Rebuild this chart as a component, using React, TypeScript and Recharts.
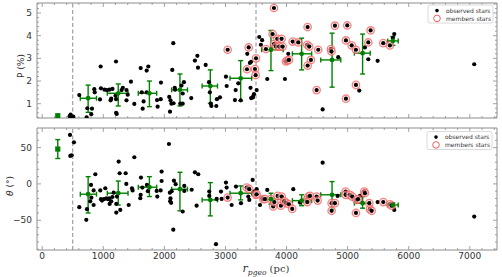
import React from "react";
import {
    ScatterChart,
    Scatter,
    XAxis,
    YAxis,
    ErrorBar,
    ReferenceLine,
    ReferenceArea
} from "recharts";

// distance (pc), polarisation (%) for stars that are not members
const observedP: [number, number][] = [
    [450, 0.45], [465, 0.52], [480, 0.42], [510, 0.43],
    [607, 1.38], [728, 0.40], [804, 0.54], [815, 0.78], [739, 0.80], [853, 1.64], [860, 1.50],
    [957, 2.64], [962, 1.68], [946, 1.19], [1020, 1.62], [1060, 1.60], [1100, 1.62], [1208, 2.86],
    [1150, 1.65], [1200, 1.35], [1210, 1.20], [1210, 0.60], [1220, 0.55], [1130, 1.22], [1120, 1.15],
    [1300, 1.60], [1320, 1.70], [1380, 1.60], [1400, 1.40], [1453, 1.97], [1380, 1.15], [1508, 0.99],
    [1612, 2.57], [1710, 2.46], [1737, 2.64], [1630, 1.50], [1660, 1.10], [1710, 1.50], [1645, 0.78],
    [1880, 1.16], [1890, 0.87], [1940, 1.20], [1944, 1.93], [2146, 3.67], [2129, 2.49], [2080, 1.30],
    [2100, 1.15], [2092, 0.65], [2115, 1.00], [2150, 1.02], [2170, 1.70], [2175, 1.62], [2280, 1.80],
    [2300, 1.45], [2320, 1.95], [2260, 1.00], [2300, 1.00], [2440, 1.25], [2500, 2.90], [2540, 3.11],
    [2550, 2.59], [2676, 2.71], [2730, 1.95], [2745, 1.50], [2760, 1.00], [2770, 0.90], [2850, 0.90],
    [2860, 1.20], [2910, 1.28], [3008, 2.19], [3020, 1.78], [3155, 1.16], [3167, 1.60], [3210, 1.90],
    [3250, 1.15], [3357, 3.20], [3400, 2.80], [3420, 2.85], [3410, 1.70], [3420, 1.25], [3450, 1.30],
    [3467, 1.42], [3445, 1.27], [3511, 1.60], [3553, 3.94], [3600, 3.80], [3580, 3.60], [3684, 2.09],
    [3974, 2.09], [4028, 3.20], [4591, 0.75], [4846, 3.05], [5190, 1.58], [5283, 3.48], [5338, 2.96],
    [5491, 2.89], [5763, 4.07], [5740, 3.90], [7072, 2.74]
];

const membersP: [number, number][] = [
    [3036, 3.38], [3352, 2.52], [3380, 3.48], [3500, 3.00], [3483, 2.53], [3494, 2.26], [3794, 5.22],
    [3663, 3.41], [3772, 4.07], [3794, 3.63], [3827, 3.52], [3848, 3.86], [3881, 3.52], [3919, 3.86],
    [3936, 3.52], [3990, 2.86], [4012, 2.90], [4039, 2.93], [4100, 3.74], [4192, 3.70], [4345, 4.38],
    [4339, 3.60], [4372, 3.52], [4399, 2.93], [4345, 2.68], [4519, 3.38], [4492, 1.60], [4727, 3.41],
    [4735, 3.30], [4792, 4.44], [4972, 3.79], [4972, 1.22], [4994, 4.45], [5066, 3.57], [5136, 3.38],
    [5136, 1.83], [5338, 3.70], [5376, 4.23], [5583, 3.67], [5692, 3.57]
];

// distance (pc), polarisation angle (deg)
const observedTheta: [number, number][] = [
    [455, 67.4], [520, 57.3], [460, 38.5], [483, 39.5],
    [607, -32], [722, -49.5], [733, -34.8], [787, -24], [799, -1.4], [842, -9], [870, 13.3], [842, -29],
    [805, -19], [951, -9], [962, -21], [979, -23], [1033, -6], [1010, -21], [1050, -20], [1080, -21],
    [1100, -20], [1104, -27.5], [1130, -24], [1150, -18], [1170, -12], [1213, -27.5], [1213, -39.5],
    [1224, -17.4], [1252, 30.7], [1268, 14.7], [1278, -35.8], [1366, 14.7], [1377, 0], [1416, -29],
    [1470, -6], [1480, -9], [1508, 36.7], [1617, 8.7], [1612, -15], [1606, -19.7], [1640, -5],
    [1715, -1.4], [1730, -10], [1874, -9.6], [1884, -17.4], [1939, -9], [1955, 17], [1955, 4],
    [2075, 55], [2090, -12], [2100, -20], [2095, -24], [2110, -26], [2120, -10], [2157, 4.5],
    [2185, -0.4], [2146, -63], [2300, -38], [2326, -2.8], [2326, -9.6], [2447, -8], [2500, 16],
    [2555, 13.3], [2528, -30], [2735, -10.6], [2735, -16.5], [2845, -83], [2856, -20.6], [2937, -20.6],
    [2927, -10.6], [3008, 1.8], [3019, -5], [3101, -29], [3172, -3.7], [3254, -26.5], [3374, -17.4],
    [3390, -22], [3445, 5.5], [3466, -10.6], [3511, -7.3], [3565, -29], [3602, -19.7], [3684, -8.3],
    [4110, -7.3], [4219, -25.7], [4591, 29.3], [4836, -16.5], [5201, -16.5], [5491, -25], [5763, -35.8],
    [7072, -45]
];

const membersTheta: [number, number][] = [
    [3036, -18.8], [3347, -5], [3390, -7.3], [3499, -15], [3511, -14.2], [3619, -21], [3647, -21],
    [3745, -21], [3782, -31], [3800, -25], [3854, -16.5], [3920, -17.4], [3908, -30], [3963, -24],
    [4001, -26.5], [4039, -28], [4093, -34.4], [4329, -22], [4356, -17.4], [4383, -16.5], [4340, -25],
    [4492, -17.4], [4509, -23], [4738, -26.5], [4792, -26.5], [4738, -37], [4967, -10.6], [4967, -15],
    [5038, -15], [5075, -17.4], [5147, -22], [5170, -21], [5136, -40], [5272, -10.6], [5283, -12.8],
    [5354, -26.5], [5365, -34.8], [5393, -37], [5583, -25], [5692, -28], [5720, -30]
];

// binned medians
const binCenter = [752, 1245, 1755, 2255, 2752, 3249, 3745, 4247, 4745, 5245, 5740];
const binLow = [624, 1066, 1573, 2119, 2618, 3074, 3592, 4096, 4560, 5110, 5656];
const binHigh = [889, 1405, 1874, 2378, 2869, 3429, 3945, 4411, 4888, 5370, 5828];
const medianP = [1.24, 1.46, 1.46, 1.61, 1.78, 2.12, 3.38, 3.2, 2.93, 3.23, 3.77];
const medianPLow = [0.62, 0.9, 0.87, 0.9, 1.02, 1.13, 2.46, 2.49, 1.73, 2.31, 3.57];
const medianPHigh = [1.82, 1.87, 2.0, 2.31, 2.49, 2.9, 4.23, 3.89, 4.11, 4.07, 3.96];
const medianTheta = [-14.2, -12.8, -4.5, -7.3, -22, -12.8, -21, -23, -15, -26.5, -29];
const medianThetaLow = [-40, -29, -17.4, -37, -44, -22, -27.9, -30, -35, -33.4, -32];
const medianThetaHigh = [10, 4, 10, 16, 1.8, -2.75, -12.8, -15, 3.2, -17.4, -26];

// nearby cloud point
const nearD = 255;
const nearP = [0.47, 0.45, 0.49];
const nearTheta = [48, 35, 61];

const cloudEdges = [500, 3500];

const X_DOMAIN: [number, number] = [-85, 7445];
const P_DOMAIN: [number, number] = [0.37, 5.44];
const T_DOMAIN: [number, number] = [-91, 77];

const xTicks = Array.from({length: 38}, (_, i) => i * 200);
const pTicks = Array.from({length: 26}, (_, i) => (4 + i * 2) / 10);
const tTicks = Array.from({length: 17}, (_, i) => -90 + i * 10);

const AXIS = "#8c8c8c";
const TEXT = "#333";
const FONT = "DejaVu Sans";
const PLOT_W = 460;

const toPts = (arr: [number, number][]) => arr.map(([x, y]) => ({x, y}));

const medians = (vals: number[], lo: number[], hi: number[]) =>
    binCenter.map((x, i) => ({
        x,
        y: vals[i],
        ex: [x - binLow[i], binHigh[i] - x],
        ey: [vals[i] - lo[i], hi[i] - vals[i]]
    }));

const dot = (p: any) => <circle cx={p.cx} cy={p.cy} r={2.1} fill="#000"/>;
const member = (p: any) => (
    <g>
        <circle cx={p.cx} cy={p.cy} r={3.7} fill="#ffe4e4" fillOpacity={0.5} stroke="#f25c5c" strokeOpacity={0.75} strokeWidth={1.3}/>
        <circle cx={p.cx} cy={p.cy} r={2.1} fill="#000"/>
    </g>
);
const greenDot = (p: any) => <circle cx={p.cx} cy={p.cy} r={2.4} fill="green"/>;
const greenSquare = (p: any) => <rect x={p.cx - 2.6} y={p.cy - 2.6} width={5.2} height={5.2} fill="green"/>;

const fmt = (v: number) => (v < 0 ? "\u2212" + Math.abs(v) : String(v));

const makeXTick = (plotH: number, labels: boolean) => (props: any) => {
    const {x, y, payload} = props;
    const v = payload.value;
    const major = v % 1000 === 0;
    const len = major ? 4 : 2;
    return (
        <g>
            <line x1={x} y1={y} x2={x} y2={y - len} stroke={AXIS} strokeWidth={0.8}/>
            <line x1={x} y1={y - plotH} x2={x} y2={y - plotH + len} stroke={AXIS} strokeWidth={0.8}/>
            {labels && major ? (
                <text x={x} y={y + 9} textAnchor="middle" fontSize={9} fill={TEXT} fontFamily={FONT}>{v}</text>
            ) : null}
        </g>
    );
};

const makeYTick = (isMajor: (v: number) => boolean) => (props: any) => {
    const {x, y, payload} = props;
    const v = payload.value;
    const major = isMajor(v);
    const len = major ? 4 : 2;
    return (
        <g>
            <line x1={x} y1={y} x2={x + len} y2={y} stroke={AXIS} strokeWidth={0.8}/>
            <line x1={x + PLOT_W} y1={y} x2={x + PLOT_W - len} y2={y} stroke={AXIS} strokeWidth={0.8}/>
            {major ? (
                <text x={x - 5} y={y} dy="0.35em" textAnchor="end" fontSize={9} fill={TEXT} fontFamily={FONT}>{fmt(Math.round(v))}</text>
            ) : null}
        </g>
    );
};

const Legend = ({x, y}: {x: number, y: number}) => (
    <g fontFamily={FONT} fontSize={6} fill={TEXT}>
        <rect x={x} y={y} width={65} height={18} rx={2} fill="#fff" stroke="#d0d0d0" strokeWidth={0.8}/>
        <circle cx={x + 9} cy={y + 5.6} r={1.8} fill="#000"/>
        <text x={x + 18} y={y + 5.6} dy="0.35em">observed stars</text>
        <circle cx={x + 9} cy={y + 13.4} r={3.3} fill="none" stroke="#f25c5c" strokeWidth={1}/>
        <text x={x + 18} y={y + 13.4} dy="0.35em">members stars</text>
    </g>
);

export default function App() {
    const medP = medians(medianP, medianPLow, medianPHigh);
    const medT = medians(medianTheta, medianThetaLow, medianThetaHigh);
    const nearPPt = [{x: nearD, y: nearP[0], ey: [nearP[0] - nearP[1], nearP[2] - nearP[0]]}];
    const nearTPt = [{x: nearD, y: nearTheta[0], ey: [nearTheta[0] - nearTheta[1], nearTheta[2] - nearTheta[0]]}];

    return (
        <div style={{position: "absolute", left: 0, top: 0, width: 502, height: 277, background: "#fff"}}>
            <div style={{position: "absolute", left: 0, top: 0}}>
                <ScatterChart width={502} height={122} margin={{top: 3, right: 5, bottom: 0, left: 0}}>
                    <XAxis type="number" dataKey="x" domain={X_DOMAIN} allowDataOverflow ticks={xTicks} interval={0}
                           tickSize={0} tickMargin={0} tickLine={false} axisLine={false} height={4}
                           tick={makeXTick(115, false)}/>
                    <YAxis type="number" dataKey="y" domain={P_DOMAIN} allowDataOverflow ticks={pTicks} interval={0}
                           tickSize={0} tickMargin={0} tickLine={false} axisLine={false} width={37}
                           tick={makeYTick((v) => Math.abs(v - Math.round(v)) < 1e-6)}/>
                    <ReferenceArea x1={X_DOMAIN[0]} x2={X_DOMAIN[1]} y1={P_DOMAIN[0]} y2={P_DOMAIN[1]}
                                   fill="#fff" fillOpacity={0} stroke={AXIS} strokeWidth={1}/>
                    {cloudEdges.map((e) => (
                        <ReferenceLine key={e} x={e} stroke="#8c8c8c" strokeDasharray="4 2.5" strokeWidth={1}/>
                    ))}
                    <Scatter data={toPts(observedP)} shape={dot} isAnimationActive={false}/>
                    <Scatter data={toPts(membersP)} shape={member} isAnimationActive={false}/>
                    <Scatter data={nearPPt} shape={greenSquare} isAnimationActive={false}/>
                    <Scatter data={medP} shape={greenDot} isAnimationActive={false}>
                        <ErrorBar dataKey="ey" direction="y" width={2.5} stroke="green" strokeWidth={1.4} isAnimationActive={false}/>
                        <ErrorBar dataKey="ex" direction="x" width={2.5} stroke="green" strokeWidth={1.4} isAnimationActive={false}/>
                    </Scatter>
                </ScatterChart>
            </div>
            <div style={{position: "absolute", left: 0, top: 125}}>
                <ScatterChart width={502} height={152} margin={{top: 3, right: 5, bottom: 0, left: 0}}>
                    <XAxis type="number" dataKey="x" domain={X_DOMAIN} allowDataOverflow ticks={xTicks} interval={0}
                           tickSize={0} tickMargin={0} tickLine={false} axisLine={false} height={27}
                           tick={makeXTick(122, true)}/>
                    <YAxis type="number" dataKey="y" domain={T_DOMAIN} allowDataOverflow ticks={tTicks} interval={0}
                           tickSize={0} tickMargin={0} tickLine={false} axisLine={false} width={37}
                           tick={makeYTick((v) => v % 50 === 0)}/>
                    <ReferenceArea x1={X_DOMAIN[0]} x2={X_DOMAIN[1]} y1={T_DOMAIN[0]} y2={T_DOMAIN[1]}
                                   fill="#fff" fillOpacity={0} stroke={AXIS} strokeWidth={1}/>
                    {cloudEdges.map((e) => (
                        <ReferenceLine key={e} x={e} stroke="#8c8c8c" strokeDasharray="4 2.5" strokeWidth={1}/>
                    ))}
                    <Scatter data={toPts(observedTheta)} shape={dot} isAnimationActive={false}/>
                    <Scatter data={toPts(membersTheta)} shape={member} isAnimationActive={false}/>
                    <Scatter data={nearTPt} shape={greenSquare} isAnimationActive={false}>
                        <ErrorBar dataKey="ey" direction="y" width={2.5} stroke="green" strokeWidth={1.4} isAnimationActive={false}/>
                    </Scatter>
                    <Scatter data={medT} shape={greenDot} isAnimationActive={false}>
                        <ErrorBar dataKey="ey" direction="y" width={2.5} stroke="green" strokeWidth={1.4} isAnimationActive={false}/>
                        <ErrorBar dataKey="ex" direction="x" width={2.5} stroke="green" strokeWidth={1.4} isAnimationActive={false}/>
                    </Scatter>
                </ScatterChart>
            </div>
            <svg width={502} height={277} style={{position: "absolute", left: 0, top: 0, pointerEvents: "none"}}>
                <Legend x={428} y={5}/>
                <Legend x={427} y={131.5}/>
                <text transform="translate(21,66) rotate(-90)" textAnchor="middle" dy="0.35em"
                      fontFamily={FONT} fontSize={9} fill={TEXT}>P (%)</text>
                <text transform="translate(10,186) rotate(-90)" textAnchor="middle" dy="0.35em"
                      fontFamily={FONT} fontSize={9} fill={TEXT}>
                    <tspan fontStyle="italic">θ</tspan> (°)
                </text>
                <text x={266} y={272} textAnchor="middle" fill={TEXT}>
                    <tspan fontFamily="DejaVu Serif" fontStyle="italic" fontSize={11}>r</tspan>
                    <tspan fontFamily="DejaVu Serif" fontStyle="italic" fontSize={7.5} dy={2.5}>pgeo</tspan>
                    <tspan fontFamily="DejaVu Serif" fontSize={10} dy={-2.5}>{"  (pc)"}</tspan>
                </text>
            </svg>
        </div>
    );
}
